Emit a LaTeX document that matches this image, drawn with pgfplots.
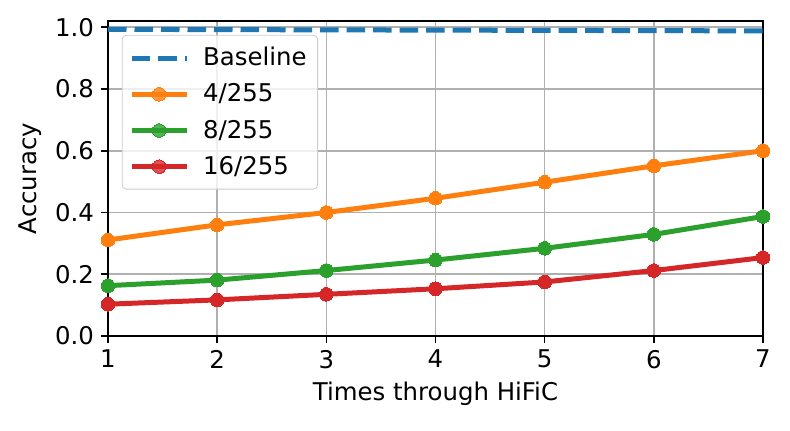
\documentclass[border=0pt]{standalone}
\usepackage{fontspec}
\setmainfont{DejaVu Sans}
\usepackage{pgfplots}
\pgfplotsset{compat=1.18}
\definecolor{mplblue}{HTML}{1F77B4}
\definecolor{mplorange}{HTML}{FF7F0E}
\definecolor{mplgreen}{HTML}{2CA02C}
\definecolor{mplred}{HTML}{D62728}
\begin{document}
\begin{tikzpicture}
\begin{axis}[
  scale only axis,
  width=327.5pt, height=157.5pt,
  xmin=1, xmax=7, ymin=0, ymax=1.02,
  xtick={1,2,3,4,5,6,7},
  ytick={0,0.2,0.4,0.6,0.8,1.0},
  yticklabel style={/pgf/number format/.cd,fixed,fixed zerofill,precision=1},
  /pgf/number format/assume math mode=true,
  tick align=outside, tick pos=left,
  major tick length=3.5pt,
  every tick/.style={black, line width=0.8pt},
  axis line style={line width=0.8pt},
  grid=major,
  major grid style={color=black!31, line width=0.8pt},
  ticklabel style={font=\fontsize{12.2}{14.5}\selectfont},
  label style={font=\fontsize{12.2}{14.5}\selectfont},
  xlabel={Times through HiFiC},
  ylabel={Accuracy},
  legend style={at={(0.021,0.956)}, anchor=north west, draw=black!20, rounded corners=2pt,
    fill=white, fill opacity=0.8, text opacity=1, font=\fontsize{12.2}{14.5}\selectfont,
    row sep=3.5pt, inner xsep=3.5pt, inner ysep=4pt,
    /tikz/every odd column/.append style={column sep=5pt}},
  legend cell align=left,
  legend image code/.code={\draw[#1] (0pt,0pt) -- (27.5pt,0pt); \draw[#1, mark repeat=1] plot coordinates {(13.75pt,0pt)};},
]
\addplot[mplblue, line width=2.5pt, dash pattern=on 9.25pt off 4pt, mark=none] coordinates {(1,0.993) (7,0.988)};
\addlegendentry{Baseline}
\addplot[mplorange, line width=2.5pt, mark=*, mark size=3.4pt, mark options={solid, fill=mplorange, draw=mplorange, line width=0pt}] coordinates {
(1,0.311) (2,0.360) (3,0.400) (4,0.446) (5,0.498) (6,0.551) (7,0.600)};
\addlegendentry{4/255}
\addplot[mplgreen, line width=2.5pt, mark=*, mark size=3.4pt, mark options={solid, fill=mplgreen, draw=mplgreen, line width=0pt}] coordinates {
(1,0.163) (2,0.181) (3,0.212) (4,0.246) (5,0.284) (6,0.329) (7,0.387)};
\addlegendentry{8/255}
\addplot[mplred, line width=2.5pt, mark=*, mark size=3.4pt, mark options={solid, fill=mplred, draw=mplred, line width=0pt}] coordinates {
(1,0.103) (2,0.117) (3,0.135) (4,0.153) (5,0.175) (6,0.212) (7,0.254)};
\addlegendentry{16/255}
\coordinate (SW) at (rel axis cs:0,0);
\coordinate (NE) at (rel axis cs:1,1);
\end{axis}
\path ([shift={(-54pt,-47pt)}]SW) rectangle ([shift={(13.5pt,10.5pt)}]NE);
\end{tikzpicture}
\end{document}
